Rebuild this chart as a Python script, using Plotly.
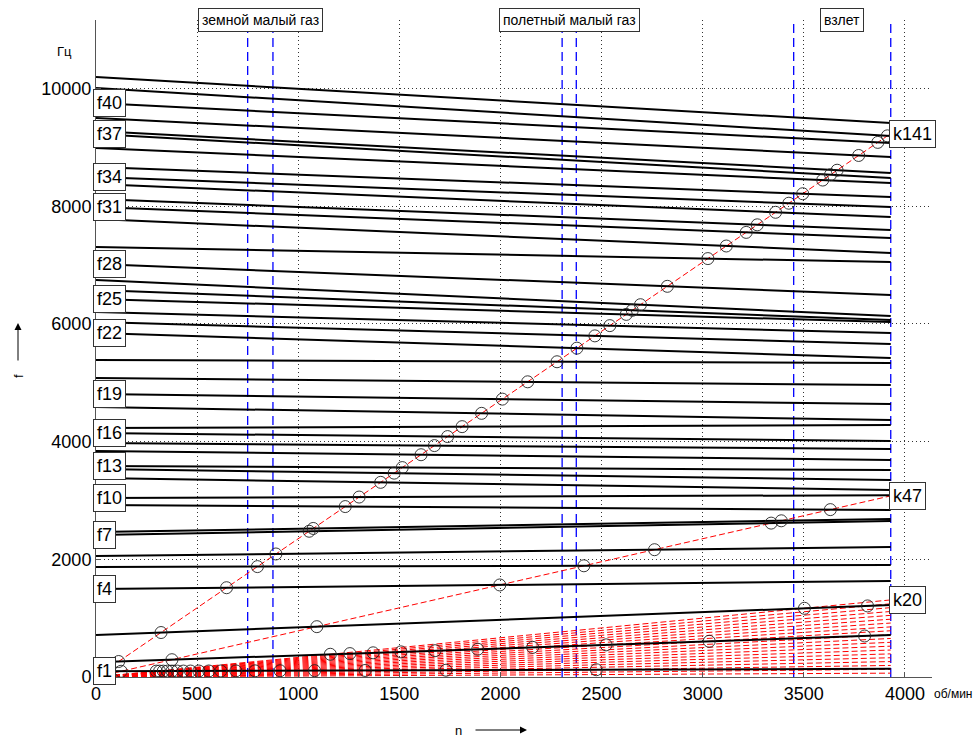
import plotly.graph_objects as go

# ---------------- data ----------------
n_end = 3930  # rpm where mode lines end
# natural frequencies of blade modes f1..f42 (Hz) at n=0 and at n=n_end
mode_f_start = [96, 250, 714, 1495, 1869, 2056, 2413, 2464, 2923, 3042,
                3381, 3534, 3585, 3840, 3976, 4146, 4231, 4588, 4809, 5081,
                5387, 5845, 6032, 6202, 6423, 6576, 6746, 7018, 7307, 7782,
                7986, 8122, 8377, 8496, 8666, 8989, 9227, 9278, 9499, 9754,
                10008, 10195]
mode_f_end = [140, 712, 1223, 1631, 1903, 2209, 2651, 2685, 2838, 3090,
              3178, 3348, 3517, 3687, 3874, 4010, 4282, 4367, 4639, 4962,
              5336, 5421, 5658, 5845, 6032, 6066, 6134, 6491, 7052, 7205,
              7460, 7596, 7816, 7986, 8156, 8394, 8479, 8564, 8836, 9074,
              9193, 9414]
mode_labels = [1, 4, 7, 10, 13, 16, 19, 22, 25, 28, 31, 34, 37, 40]

# engine orders (excitation harmonics)
fan_orders = [1, 2, 3, 4, 5, 6, 7, 8, 9, 10, 11, 12, 13, 14, 15, 16, 17, 18, 19, 20]
single_orders = [47, 141]
labelled_orders = [20, 47, 141]

# operating regimes (rpm bounds)
regime_names = ["земной малый газ", "полетный малый газ", "взлет"]
regime_lo = [750, 2305, 3450]
regime_hi = [875, 2375, 3930]

x_ticks = [0, 500, 1000, 1500, 2000, 2500, 3000, 3500, 4000]
y_ticks = [0, 2000, 4000, 6000, 8000, 10000]
x_max = 4134
y_max = 11165

FONT = "Liberation Sans, Arial, Helvetica, sans-serif"

fig = go.Figure()

# operating regime boundaries (blue dashed)
for lo, hi in zip(regime_lo, regime_hi):
    for v in (lo, hi):
        fig.add_trace(go.Scatter(x=[v, v], y=[0, y_max], mode="lines",
                                 line=dict(color="#0000ff", width=1.3, dash="9px,5px"),
                                 hoverinfo="skip", showlegend=False))

# engine order lines (red dashed)
for k in fan_orders + single_orders:
    fig.add_trace(go.Scatter(x=[0, n_end], y=[0, k * n_end / 60], mode="lines",
                             line=dict(color="#ff0000", width=1, dash="6px,3px"),
                             hoverinfo="skip", showlegend=False))

# mode lines (black)
lx, ly = [], []
for a, e in zip(mode_f_start, mode_f_end):
    lx += [0, n_end, None]
    ly += [a, e, None]
fig.add_trace(go.Scatter(x=lx, y=ly, mode="lines",
                         line=dict(color="#000000", width=2),
                         hoverinfo="skip", showlegend=False))

# resonance points (intersections)
cx, cy = [], []
for k in fan_orders + single_orders:
    s = k / 60.0
    for a, e in zip(mode_f_start, mode_f_end):
        b = (e - a) / n_end
        if s > b:
            n = a / (s - b)
            if 0 < n <= n_end:
                cx.append(n)
                cy.append(s * n)
fig.add_trace(go.Scatter(x=cx, y=cy, mode="markers",
                         marker=dict(symbol="circle-open", size=12, color="#222222",
                                     line=dict(width=0.9)),
                         hoverinfo="skip", showlegend=False))

ann = []
# mode labels
for i in mode_labels:
    ann.append(dict(x=0, y=mode_f_start[i - 1], xref="x", yref="y", text="f%d" % i,
                    showarrow=False, xanchor="left", yanchor="middle", xshift=-3,
                    font=dict(family=FONT, size=18, color="black"),
                    bgcolor="white", bordercolor="#333", borderwidth=1, borderpad=3))
# order labels
for k in labelled_orders:
    ann.append(dict(x=n_end, y=k * n_end / 60, xref="x", yref="y", text="k%d" % k,
                    showarrow=False, xanchor="left", yanchor="middle", xshift=-2,
                    font=dict(family=FONT, size=18, color="black"),
                    bgcolor="white", bordercolor="#333", borderwidth=1, borderpad=3))
# regime labels
for name, lo, hi in zip(regime_names, regime_lo, regime_hi):
    ann.append(dict(x=(lo + hi) / 2, y=y_max, xref="x", yref="y", text=name,
                    showarrow=False, xanchor="center", yanchor="middle",
                    font=dict(family=FONT, size=14, color="black"),
                    bgcolor="white", bordercolor="#333", borderwidth=1, borderpad=3))
# units and axis names
ann.append(dict(x=1, y=0, xref="paper", yref="paper", text="об/мин", showarrow=False,
                xanchor="left", yanchor="middle", yshift=-17, xshift=0,
                font=dict(family=FONT, size=12, color="black")))
ann.append(dict(x=(64 - 96) / 836, y=(677 - 51) / 657, xref="paper", yref="paper",
                text="Гц", showarrow=False, xanchor="center", yanchor="middle",
                font=dict(family=FONT, size=13, color="black")))
ann.append(dict(x=(458 - 96) / 836, y=(677 - 730) / 657, xref="paper", yref="paper",
                text="n", showarrow=False, xanchor="center", yanchor="middle",
                font=dict(family=FONT, size=13, color="black")))
ann.append(dict(x=(527 - 96) / 836, y=(677 - 730) / 657, xref="paper", yref="paper",
                text="", showarrow=True, ax=-53, ay=0, arrowhead=2, arrowsize=1.4,
                arrowwidth=1, arrowcolor="black"))
ann.append(dict(x=(18 - 96) / 836, y=(677 - 376) / 657, xref="paper", yref="paper",
                text="f", showarrow=False, textangle=-90, xanchor="center", yanchor="middle",
                font=dict(family=FONT, size=13, color="black")))
ann.append(dict(x=(18 - 96) / 836, y=(677 - 323) / 657, xref="paper", yref="paper",
                text="", showarrow=True, ax=0, ay=39, arrowhead=2, arrowsize=1.4,
                arrowwidth=1, arrowcolor="black"))

grid = dict(showgrid=True, gridcolor="#333", griddash="1px,3px", gridwidth=1)
fig.update_layout(
    width=976, height=737,
    margin=dict(l=96, r=44, t=20, b=60),
    paper_bgcolor="white", plot_bgcolor="white",
    showlegend=False, hovermode=False,
    font=dict(family=FONT, size=18, color="black"),
    annotations=ann,
    xaxis=dict(range=[0, x_max], tickvals=x_ticks, ticktext=[str(v) for v in x_ticks],
               showline=True, linecolor="#555", linewidth=1, ticks="inside", ticklen=5,
               tickcolor="#555", zeroline=False, tickfont=dict(size=18, family=FONT), **grid),
    yaxis=dict(range=[0, y_max], tickvals=y_ticks, ticktext=[str(v) for v in y_ticks],
               showline=True, linecolor="#555", linewidth=1, ticks="inside", ticklen=5,
               tickcolor="#555", zeroline=False, tickfont=dict(size=18, family=FONT), **grid),
)

fig.write_html("out.html", config={"displayModeBar": False},
               post_script="document.body.style.margin='0px';")
